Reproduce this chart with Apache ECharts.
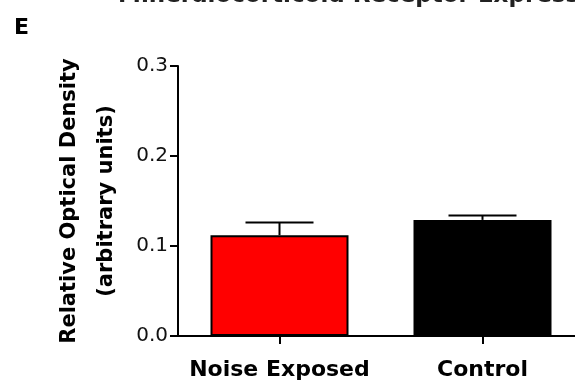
<!DOCTYPE html>
<html>
<head>
<meta charset="utf-8">
<script src="https://cdn.jsdelivr.net/npm/echarts@6/dist/echarts.min.js"></script>
<style>
  html, body { margin: 0; padding: 0; background: #ffffff; overflow: hidden; }
  #chart { width: 584px; height: 385px; }
</style>
</head>
<body>
<div id="chart"></div>
<script>
const categories = ['Noise Exposed', 'Control'];
const meanValues = [0.112, 0.129];
const semValues = [0.014, 0.005];
const barColors = ['#ff0000', '#000000'];
const yTicks = [0.0, 0.1, 0.2, 0.3];

const FONT = 'DejaVu Sans';
const chart = echarts.init(document.getElementById('chart'), null, { renderer: 'canvas' });

const option = {
  backgroundColor: '#ffffff',
  animation: false,
  title: [
    {
      text: 'Mineralocorticoid Receptor Expression',
      left: 113,
      top: -20,
      textStyle: { fontFamily: FONT, fontSize: 23, fontWeight: 'bold', color: '#222222' }
    },
    {
      text: 'E',
      left: 9,
      top: 12,
      textStyle: { fontFamily: FONT, fontSize: 22, fontWeight: 'bold', color: '#000000' }
    }
  ],
  grid: { left: 178, right: 0, top: 66, bottom: 49, containLabel: false },
  xAxis: {
    type: 'category',
    data: categories,
    axisLine: { show: true, lineStyle: { color: '#000', width: 2 } },
    axisTick: { show: true, alignWithLabel: true, length: 8, lineStyle: { color: '#000', width: 2 } },
    axisLabel: { interval: 0, fontFamily: FONT, fontSize: 22, fontWeight: 'bold', color: '#000', margin: 23 },
    splitLine: { show: false }
  },
  yAxis: {
    type: 'value',
    min: yTicks[0],
    max: yTicks[yTicks.length - 1],
    interval: 0.1,
    name: 'Relative Optical Density\n(arbitrary units)',
    nameLocation: 'middle',
    nameGap: 52,
    nameRotate: 90,
    nameTextStyle: { fontFamily: FONT, fontSize: 21, fontWeight: 'bold', color: '#000', lineHeight: 37, align: 'center' },
    axisLine: { show: true, lineStyle: { color: '#000', width: 2 } },
    axisTick: { show: true, length: 8, lineStyle: { color: '#000', width: 2 } },
    axisLabel: { fontFamily: FONT, fontSize: 20, color: '#111', margin: 10, formatter: v => v.toFixed(1) },
    splitLine: { show: false }
  },
  series: [
    {
      type: 'bar',
      data: meanValues.map((v, i) => ({ value: v, itemStyle: { color: barColors[i] } })),
      barWidth: 138,
      itemStyle: { borderColor: '#000', borderWidth: 2 },
      z: 2
    },
    {
      type: 'custom',
      data: meanValues.map((v, i) => [i, v, v + semValues[i]]),
      z: 3,
      renderItem: function (params, api) {
        const x = api.value(0);
        const base = api.coord([x, api.value(1)]);
        const top = api.coord([x, api.value(2)]);
        const half = 34;
        return {
          type: 'group',
          children: [
            { type: 'line', shape: { x1: base[0], y1: base[1], x2: top[0], y2: top[1] }, style: { stroke: '#000', lineWidth: 2 } },
            { type: 'line', shape: { x1: top[0] - half, y1: top[1], x2: top[0] + half, y2: top[1] }, style: { stroke: '#000', lineWidth: 2 } }
          ]
        };
      }
    }
  ]
};
chart.setOption(option);
</script>
</body>
</html>
